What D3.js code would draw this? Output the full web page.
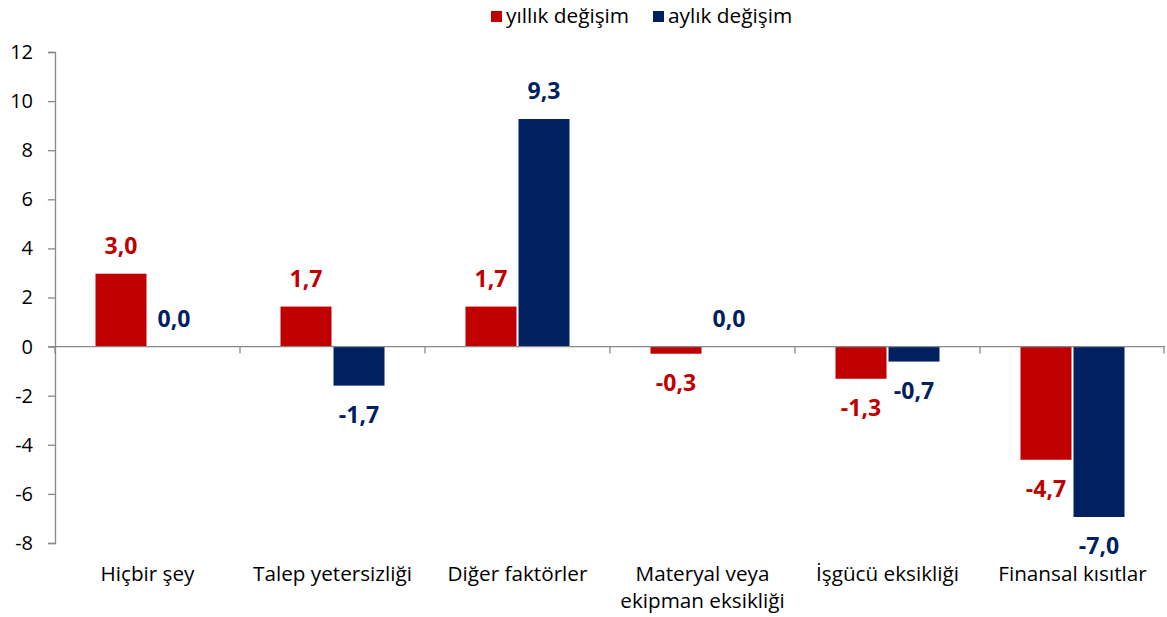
<html>
<head>
<script src="https://cdn.jsdelivr.net/npm/d3@7"></script>
<style>
  body { margin: 0; background: #fff; }
  text { font-family: "Open Sans", Lato, sans-serif; }
</style>
</head>
<body>
<svg id="chart"></svg>
<script>
// categories (second line after "|")
var categories = ["Hiçbir şey", "Talep yetersizliği", "Diğer faktörler",
                  "Materyal veya|ekipman eksikliği", "İşgücü eksikliği", "Finansal kısıtlar"];
var seriesNames = ["yıllık değişim", "aylık değişim"];
// bar heights
var yearly = [2.97, 1.63, 1.63, -0.29, -1.31, -4.61];
var monthly = [0.0, -1.59, 9.27, 0.0, -0.61, -6.94];
// printed data labels
var yearlyLabels = ["3,0", "1,7", "1,7", "-0,3", "-1,3", "-4,7"];
var monthlyLabels = ["0,0", "-1,7", "9,3", "0,0", "-0,7", "-7,0"];
var yTicks = [-8, -6, -4, -2, 0, 2, 4, 6, 8, 10, 12];
var colors = ["#c00000", "#002060"];

var W = 1167, H = 617;
var margin = {top: 52, right: 2, bottom: 74, left: 55};

var svg = d3.select("#chart").attr("width", W).attr("height", H);

var x = d3.scaleBand()
    .domain(d3.range(categories.length))
    .range([margin.left, W - margin.right]);

var y = d3.scaleLinear()
    .domain([-8, 12])
    .range([H - margin.bottom, margin.top]);

var bw = 51, gap = 2;

// y axis
var yAxis = svg.append("g")
    .attr("transform", "translate(" + margin.left + ",0)")
    .call(d3.axisLeft(y).tickValues(yTicks).tickSize(7).tickPadding(15).tickFormat(d3.format("d")));
yAxis.select(".domain").attr("stroke", "#898989").attr("stroke-width", 1.3);
yAxis.selectAll(".tick line").attr("stroke", "#898989").attr("stroke-width", 1.3);
yAxis.selectAll(".tick text")
    .style("font-size", "20px").attr("fill", "#000")
    .text(function(d) { return String(d); });

// bars
var data = categories.map(function(c, i) {
  return [{s: 0, i: i, v: yearly[i], l: yearlyLabels[i]},
          {s: 1, i: i, v: monthly[i], l: monthlyLabels[i]}];
});
var flat = [].concat.apply([], data);

function barX(d) {
  var c = x(d.i) + x.bandwidth() / 2;
  return d.s === 0 ? c - gap / 2 - bw : c + gap / 2;
}

svg.append("g").selectAll("rect")
    .data(flat)
    .enter().append("rect")
    .attr("x", barX)
    .attr("width", bw)
    .attr("y", function(d) { return y(Math.max(0, d.v)); })
    .attr("height", function(d) { return Math.abs(y(d.v) - y(0)); })
    .attr("fill", function(d) { return colors[d.s]; });

// x axis along zero
var xAxisG = svg.append("g");
xAxisG.append("line")
    .attr("x1", margin.left - 7).attr("x2", W - margin.right)
    .attr("y1", y(0)).attr("y2", y(0))
    .attr("stroke", "#898989").attr("stroke-width", 1.3);
xAxisG.selectAll(".xt")
    .data(d3.range(categories.length + 1))
    .enter().append("line")
    .attr("x1", function(i) { return i < categories.length ? x(i) : x.range()[1] - 1; })
    .attr("x2", function(i) { return i < categories.length ? x(i) : x.range()[1] - 1; })
    .attr("y1", y(0)).attr("y2", y(0) + 7)
    .attr("stroke", "#898989").attr("stroke-width", 1.3);

// data labels
svg.append("g").selectAll("text")
    .data(flat)
    .enter().append("text")
    .attr("x", function(d) { return barX(d) + bw / 2; })
    .attr("y", function(d) { return d.v >= 0 ? y(d.v) - 20 : y(d.v) + 37; })
    .attr("text-anchor", "middle")
    .style("font-size", "23px").style("font-weight", "bold")
    .attr("fill", function(d) { return colors[d.s]; })
    .text(function(d) { return d.l; });

// category labels
var cat = svg.append("g").selectAll("text")
    .data(categories)
    .enter().append("text")
    .attr("x", function(d, i) { return x(i) + x.bandwidth() / 2; })
    .attr("y", 581)
    .attr("text-anchor", "middle")
    .style("font-size", "20.7px").attr("fill", "#000");
cat.each(function(d) {
  var parts = d.split("|");
  var t = d3.select(this);
  parts.forEach(function(p, k) {
    t.append("tspan")
      .attr("x", t.attr("x"))
      .attr("dy", k === 0 ? 0 : 27)
      .text(p);
  });
});

// legend
var legend = svg.append("g");
var lx = [491, 653];
seriesNames.forEach(function(n, k) {
  legend.append("rect")
      .attr("x", lx[k]).attr("y", 11).attr("width", 11).attr("height", 11)
      .attr("fill", colors[k]);
  legend.append("text")
      .attr("x", lx[k] + 15).attr("y", 23)
      .style("font-size", "20.8px").attr("fill", "#000")
      .text(n);
});
</script>
</body>
</html>
